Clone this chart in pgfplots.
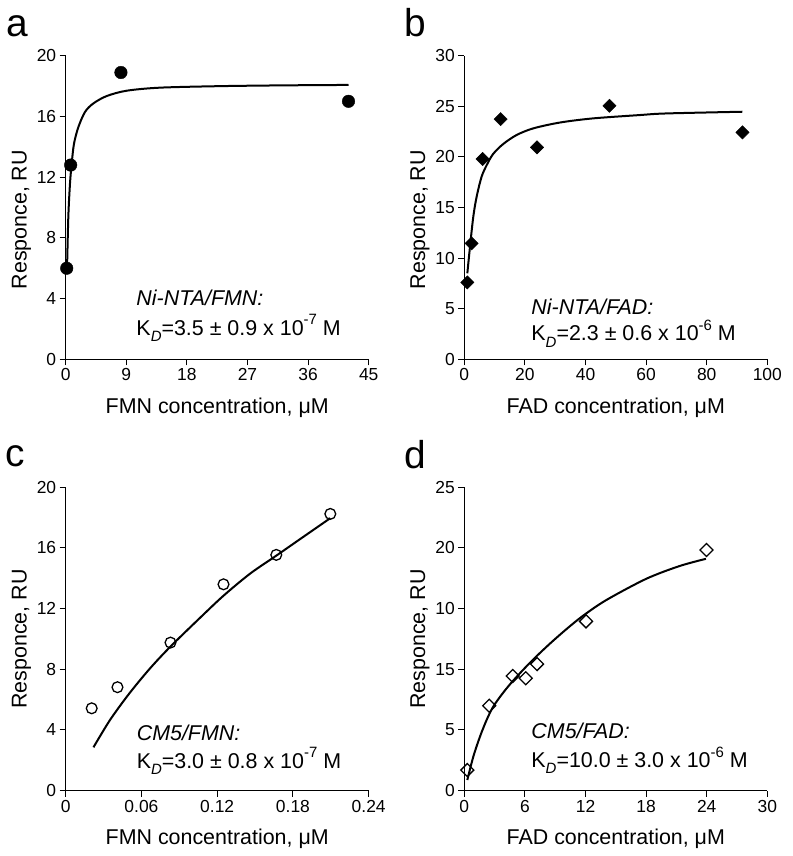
\documentclass[border=0pt]{standalone}
\usepackage{fontspec}
\setmainfont{Liberation Sans}
\usepackage{pgfplots}
\pgfplotsset{compat=1.18}

\newcommand\lab{\fontsize{21.5}{24}\selectfont}
\newcommand\sub[1]{\raisebox{-0.3em}{\fontsize{15}{15}\selectfont #1}}
\newcommand\sups[1]{\raisebox{0.48em}{\fontsize{15}{15}\selectfont #1}}
\newcommand\letterfont{\fontsize{39}{39}\selectfont}

\pgfplotsset{
  panel/.style={
    scale only axis, width=303bp, height=303.5bp,
    anchor=south west,
    axis lines=left, axis line style={-, line width=1bp},
    tick align=outside, major tick length=6bp,
    tick style={black, line width=1bp},
    enlargelimits=false, clip=false,
    /pgf/number format/assume math mode=true,
    ticklabel style={font=\fontsize{17.5}{20}\selectfont},
    xlabel style={font=\lab, at={(axis description cs:0.5,-0.178)}, anchor=base},
    ylabel style={font=\lab, anchor=base},
  },
  fit/.style={black, line width=2bp, smooth, mark=none},
}

\begin{document}
\begin{tikzpicture}

% a
\begin{axis}[panel, at={(65.7bp,496.7bp)},
    xmin=0, xmax=45, ymin=0, ymax=20,
    xtick={0,9,18,27,36,45}, ytick={0,4,8,12,16,20},
    xlabel={FMN concentration, μM}, ylabel={Responce, RU},
    ylabel style={at={(axis description cs:-0.129,0.46)}}]
\addplot[fit] coordinates {(0.2,6.0) (0.39,9.4) (0.64,11.6) (0.89,12.9) (1.23,14.2)
  (1.88,15.3) (2.87,16.3) (4.1,16.86) (6.1,17.35) (9.07,17.7) (14.0,17.9)
  (22.9,18.0) (32,18.05) (42.0,18.08)};
\addplot[only marks, mark=*, mark size=6.3bp, black] coordinates {
  (0.15,6.0) (0.74,12.8) (8.2,18.9) (42.0,17.0)};
\node[anchor=base west, font=\lab] at (rel axis cs:0.222,0.176) {\textit{Ni-NTA/FMN:}};
\node[anchor=base west, font=\lab] at (rel axis cs:0.222,0.080) {K\sub{\textit{D}}=3.5 ± 0.9 x 10\sups{-7} M};
\end{axis}

% b
\begin{axis}[panel, at={(464.3bp,496.7bp)},
    xmin=0, xmax=100, ymin=0, ymax=30,
    xtick={0,20,40,60,80,100}, ytick={0,5,10,15,20,25,30},
    xlabel={FAD concentration, μM}, ylabel={Responce, RU},
    ylabel style={at={(axis description cs:-0.129,0.46)}}]
\addplot[fit] coordinates {(1.0,8.5) (1.87,11.1) (2.97,14.1) (4.07,16.07) (5.7,18.04)
  (7.4,19.2) (9.5,20.29) (12.8,21.27) (17.2,22.16) (22.7,22.82) (31.5,23.4)
  (42.4,23.81) (57.8,24.14) (66.6,24.3) (91.8,24.47)};
\addplot[only marks, mark=square*, mark size=4.7bp, mark options={rotate=45}, black] coordinates {
  (1.0,7.6) (2.4,11.46) (6.05,19.8) (12.0,23.74) (24.0,20.95) (47.9,25.06) (91.8,22.43)};
\node[anchor=base west, font=\lab] at (rel axis cs:0.21,0.148) {\textit{Ni-NTA/FAD:}};
\node[anchor=base west, font=\lab] at (rel axis cs:0.21,0.061) {K\sub{\textit{D}}=2.3 ± 0.6 x 10\sups{-6} M};
\end{axis}

% c
\begin{axis}[panel, at={(65.7bp,65.3bp)},
    xmin=0, xmax=0.24, ymin=0, ymax=20,
    xtick={0,0.06,0.12,0.18,0.24}, xticklabels={0,0.06,0.12,0.18,0.24},
    ytick={0,4,8,12,16,20},
    xlabel={FMN concentration, μM}, ylabel={Responce, RU},
    ylabel style={at={(axis description cs:-0.129,0.5)}}]
\addplot[fit] coordinates {(0.022,2.86) (0.0351,4.66) (0.0505,6.42) (0.0669,8.07)
  (0.083,9.5) (0.1065,11.4) (0.125,12.85) (0.146,14.3) (0.167,15.5)
  (0.186,16.6) (0.2096,17.96)};
\addplot[only marks, mark=o, mark size=5.4bp, mark options={fill=white, line width=1.3bp}, black] coordinates {
  (0.0206,5.43) (0.041,6.82) (0.083,9.76) (0.125,13.6) (0.1668,15.54) (0.2096,18.24)};
\node[anchor=base west, font=\lab] at (rel axis cs:0.223,0.167) {\textit{CM5/FMN:}};
\node[anchor=base west, font=\lab] at (rel axis cs:0.223,0.074) {K\sub{\textit{D}}=3.0 ± 0.8 x 10\sups{-7} M};
\end{axis}

% d
\begin{axis}[panel, at={(464.3bp,65.3bp)},
    xmin=0, xmax=30, ymin=0, ymax=25,
    xtick={0,6,12,18,24,30},
    ytick={0,5,10,15,20,25}, yticklabels={0,5,15,10,20,25},
    xlabel={FAD concentration, μM}, ylabel={Responce, RU},
    ylabel style={at={(axis description cs:-0.129,0.5)}}]
\addplot[fit] coordinates {(0.30,0.88) (0.89,2.8) (1.55,4.45) (2.21,5.83) (2.86,6.92)
  (3.69,7.9) (4.51,8.75) (5.48,9.65) (6.81,10.8) (8.46,12.1) (10.1,13.3)
  (11.74,14.4) (14.05,15.7) (18.0,17.45) (21.29,18.5) (23.92,19.1)};
\addplot[only marks, mark=square, mark size=4.6bp, mark options={rotate=45, fill=white, line width=1.3bp}, black] coordinates {
  (0.3,1.7) (2.47,7.0) (4.8,9.45) (6.08,9.26) (7.2,10.43) (12.05,13.95) (23.98,19.83)};
\node[anchor=base west, font=\lab] at (rel axis cs:0.21,0.173) {\textit{CM5/FAD:}};
\node[anchor=base west, font=\lab] at (rel axis cs:0.21,0.077) {K\sub{\textit{D}}=10.0 ± 3.0 x 10\sups{-6} M};
\end{axis}

% panel letters
\node[anchor=base west, inner sep=0, font=\letterfont] at (6bp,819bp) {a};
\node[anchor=base west, inner sep=0, font=\letterfont] at (404bp,819bp) {b};
\node[anchor=base west, inner sep=0, font=\letterfont] at (5bp,389bp) {c};
\node[anchor=base west, inner sep=0, font=\letterfont] at (404bp,387bp) {d};

\pgfresetboundingbox
\path (0,0) rectangle (793bp,856bp);
\end{tikzpicture}
\end{document}
